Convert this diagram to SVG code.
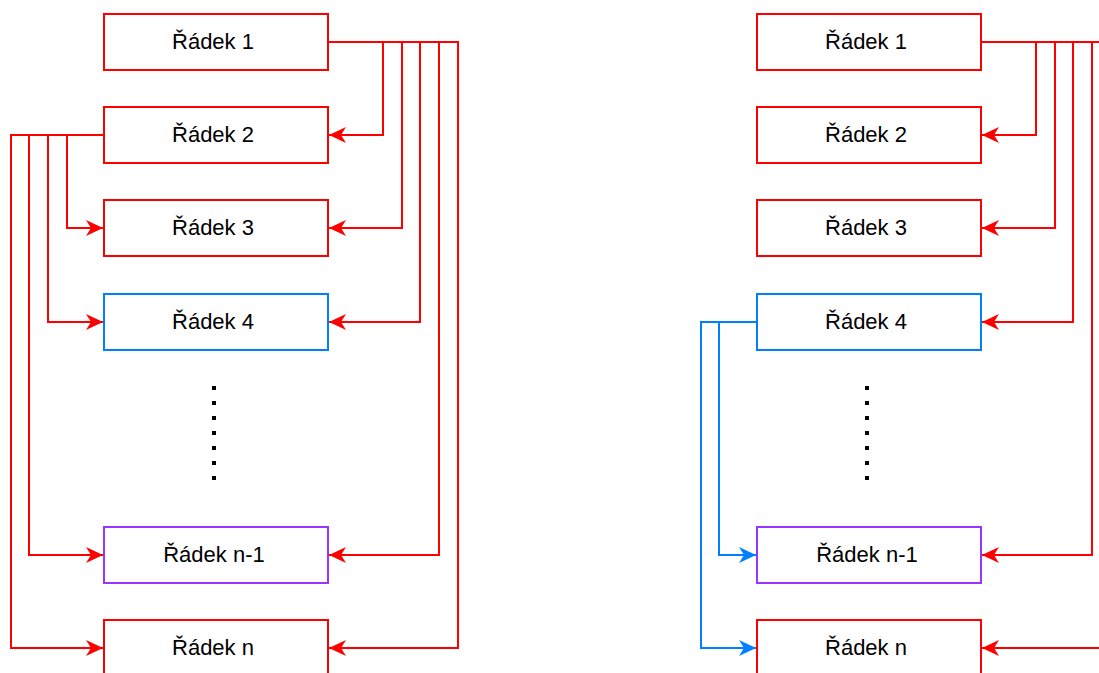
<svg xmlns="http://www.w3.org/2000/svg" width="1099" height="673" viewBox="0 0 1099 673">
  <style>
    .box { fill: #ffffff; stroke-width: 2; }
    .red { stroke: #ff0000; }
    .blue { stroke: #007fff; }
    .purple { stroke: #9933ff; }
    .lbl { font-family: "Liberation Sans", Arial, sans-serif; font-size: 22px; fill: #000000; text-anchor: middle; }
    .wire { fill: none; stroke-width: 2; }
    .dots { stroke: #000000; stroke-width: 4; stroke-dasharray: 4 11; }
  </style>
  <defs>
    <marker id="arrRed" markerUnits="userSpaceOnUse" markerWidth="20" markerHeight="20" viewBox="-18 -10 20 20" refX="0" refY="0" orient="auto">
      <path d="M0,0 L-17,-8 L-12,0 L-17,8 Z" fill="#ff0000"/>
    </marker>
    <marker id="arrBlue" markerUnits="userSpaceOnUse" markerWidth="20" markerHeight="20" viewBox="-18 -10 20 20" refX="0" refY="0" orient="auto">
      <path d="M0,0 L-17,-8 L-12,0 L-17,8 Z" fill="#007fff"/>
    </marker>
  </defs>

  <!-- connectors -->
  <g id="connectors">
    <!-- left: row 1 fans out to the rows below -->
    <path class="wire red" d="M328,42 H383 V135 H329" marker-end="url(#arrRed)"/>
    <path class="wire red" d="M383,42 H402 V228 H329" marker-end="url(#arrRed)"/>
    <path class="wire red" d="M402,42 H420 V322 H329" marker-end="url(#arrRed)"/>
    <path class="wire red" d="M420,42 H439 V555 H329" marker-end="url(#arrRed)"/>
    <path class="wire red" d="M439,42 H458 V648 H329" marker-end="url(#arrRed)"/>
    <!-- left: row 2 fans out -->
    <path class="wire red" d="M104,135 H67 V228 H103" marker-end="url(#arrRed)"/>
    <path class="wire red" d="M67,135 H48 V322 H103" marker-end="url(#arrRed)"/>
    <path class="wire red" d="M48,135 H29 V555 H103" marker-end="url(#arrRed)"/>
    <path class="wire red" d="M29,135 H11 V648 H103" marker-end="url(#arrRed)"/>

    <!-- right: row 1 fans out -->
    <path class="wire red" d="M981,42 H1036 V135 H982" marker-end="url(#arrRed)"/>
    <path class="wire red" d="M1036,42 H1055 V228 H982" marker-end="url(#arrRed)"/>
    <path class="wire red" d="M1055,42 H1073 V322 H982" marker-end="url(#arrRed)"/>
    <path class="wire red" d="M1073,42 H1092 V555 H982" marker-end="url(#arrRed)"/>
    <path class="wire red" d="M1092,42 H1111 V648 H982" marker-end="url(#arrRed)"/>
    <!-- right: row 4 fans out -->
    <path class="wire blue" d="M757,322 H719 V555 H756" marker-end="url(#arrBlue)"/>
    <path class="wire blue" d="M719,322 H701 V648 H756" marker-end="url(#arrBlue)"/>
  </g>

  <!-- left column -->
  <g id="l-row1"><rect class="box red" x="104" y="14" width="224" height="56"/><text class="lbl" x="213" y="48.5">Řádek 1</text></g>
  <g id="l-row2"><rect class="box red" x="104" y="107" width="224" height="56"/><text class="lbl" x="213" y="141.5">Řádek 2</text></g>
  <g id="l-row3"><rect class="box red" x="104" y="200" width="224" height="56"/><text class="lbl" x="213" y="234.5">Řádek 3</text></g>
  <g id="l-row4"><rect class="box blue" x="104" y="294" width="224" height="56"/><text class="lbl" x="213" y="328.5">Řádek 4</text></g>
  <g id="l-dots"><line class="dots" x1="214" y1="386" x2="214" y2="482"/></g>
  <g id="l-rowN1"><rect class="box purple" x="104" y="527" width="224" height="56"/><text class="lbl" x="214" y="561.5">Řádek n-1</text></g>
  <g id="l-rowN"><rect class="box red" x="104" y="620" width="224" height="56"/><text class="lbl" x="213" y="654.5">Řádek n</text></g>

  <!-- right column -->
  <g id="r-row1"><rect class="box red" x="757" y="14" width="224" height="56"/><text class="lbl" x="866" y="48.5">Řádek 1</text></g>
  <g id="r-row2"><rect class="box red" x="757" y="107" width="224" height="56"/><text class="lbl" x="866" y="141.5">Řádek 2</text></g>
  <g id="r-row3"><rect class="box red" x="757" y="200" width="224" height="56"/><text class="lbl" x="866" y="234.5">Řádek 3</text></g>
  <g id="r-row4"><rect class="box blue" x="757" y="294" width="224" height="56"/><text class="lbl" x="866" y="328.5">Řádek 4</text></g>
  <g id="r-dots"><line class="dots" x1="867" y1="386" x2="867" y2="482"/></g>
  <g id="r-rowN1"><rect class="box purple" x="757" y="527" width="224" height="56"/><text class="lbl" x="867" y="561.5">Řádek n-1</text></g>
  <g id="r-rowN"><rect class="box red" x="757" y="620" width="224" height="56"/><text class="lbl" x="866" y="654.5">Řádek n</text></g>
</svg>
